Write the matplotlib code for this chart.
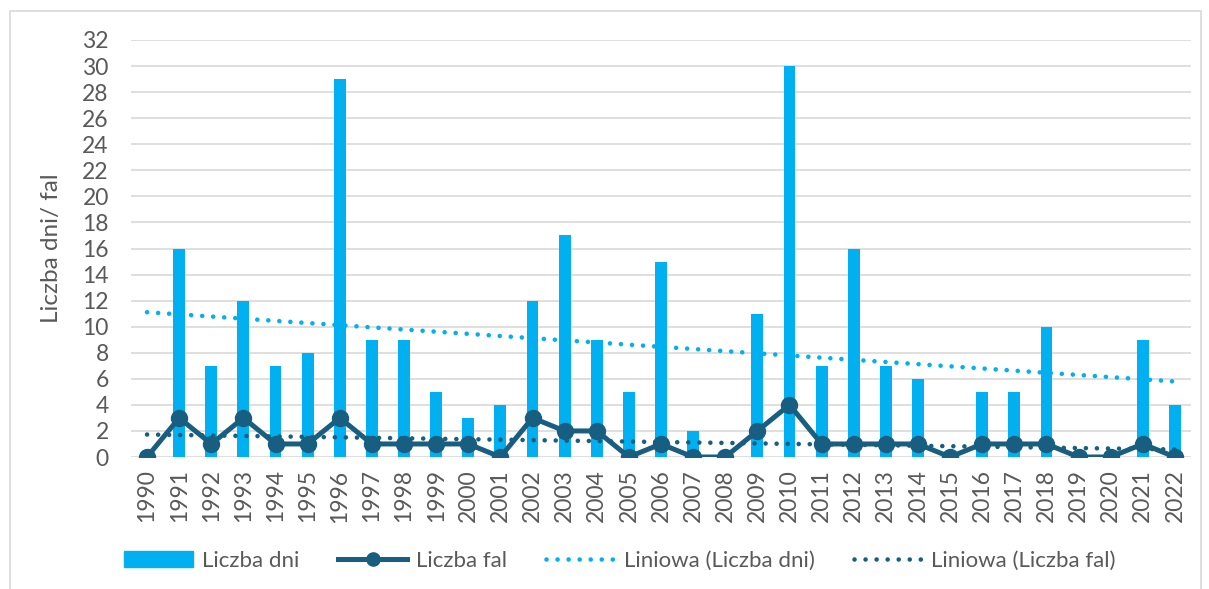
import numpy as np
import matplotlib.pyplot as plt
from matplotlib.patches import Rectangle, Patch
from matplotlib.lines import Line2D

# Heat wave statistics per year
years = list(range(1990, 2023))
liczba_dni = [0, 16, 7, 12, 7, 8, 29, 9, 9, 5, 3, 4, 12, 17, 9, 5, 15, 2, 0, 11,
              30, 7, 16, 7, 6, 0, 5, 5, 10, 0, 0, 9, 4]
liczba_fal = [0, 3, 1, 3, 1, 1, 3, 1, 1, 1, 1, 0, 3, 2, 2, 0, 1, 0, 0, 2,
              4, 1, 1, 1, 1, 0, 1, 1, 1, 0, 0, 1, 0]

c_bar = '#00B0F0'
c_line = '#185E80'
c_text = '#595959'

plt.rcParams['font.family'] = ['Lato', 'DejaVu Sans']

fig = plt.figure(figsize=(12.09, 5.89), dpi=100)
W, H = 1209, 589
ax = fig.add_axes([131 / W, 1 - 457 / H, (1191 - 131) / W, (457 - 40) / H])

x = np.arange(len(years))
ax.bar(x, liczba_dni, width=0.37, color=c_bar, zorder=2)
ax.plot(x, liczba_fal, color=c_line, lw=3.6, marker='o', ms=11.5, zorder=4)

# linear trends (Excel "Liniowa")
dots = (0, (0.01, 2.4))
p_dni = np.polyfit(x, liczba_dni, 1)
p_fal = np.polyfit(x, liczba_fal, 1)
ax.plot(x, np.polyval(p_dni, x), color=c_bar, lw=3.3, ls=dots,
        dash_capstyle='round', zorder=3)
ax.plot(x, np.polyval(p_fal, x), color=c_line, lw=3.3, ls=dots,
        dash_capstyle='round', zorder=3)

ax.set_xlim(-0.5, len(years) - 0.5)
ax.set_ylim(0, 32)
ax.set_yticks(range(0, 33, 2))
ax.set_xticks(x)
ax.set_xticklabels([str(y) for y in years], rotation=90)
ax.tick_params(axis='both', length=0, labelsize=16.5, colors=c_text)
ax.tick_params(axis='x', pad=9)
ax.tick_params(axis='y', pad=16)
ax.grid(axis='y', color='#D9D9D9', lw=1.2, zorder=0)
ax.set_axisbelow(True)
for s in ax.spines.values():
    s.set_visible(False)
ax.set_ylabel('Liczba dni/ fal', fontsize=17.5, color=c_text)
ax.yaxis.set_label_coords(-69 / 1060, 0.50)

handles = [
    Patch(color=c_bar),
    Line2D([], [], color=c_line, lw=3.6, marker='o', ms=9.5),
    Line2D([], [], color=c_bar, lw=3.3, ls=dots, dash_capstyle='round'),
    Line2D([], [], color=c_line, lw=3.3, ls=dots, dash_capstyle='round'),
]
labels = ['Liczba dni', 'Liczba fal', 'Liniowa (Liczba dni)', 'Liniowa (Liczba fal)']
fig.legend(handles, labels, loc='center', bbox_to_anchor=(0.513, 1 - 561 / H),
           ncol=4, frameon=False, fontsize=16, labelcolor=c_text,
           handlelength=3.1, handletextpad=0.4, columnspacing=1.75)

fig.patches.append(Rectangle((10 / W, -0.05), 1191 / W, 1.05 - 11 / H,
                             transform=fig.transFigure, fill=False,
                             edgecolor='#D9D9D9', lw=1.2))

fig.savefig('out.png', dpi=100)
